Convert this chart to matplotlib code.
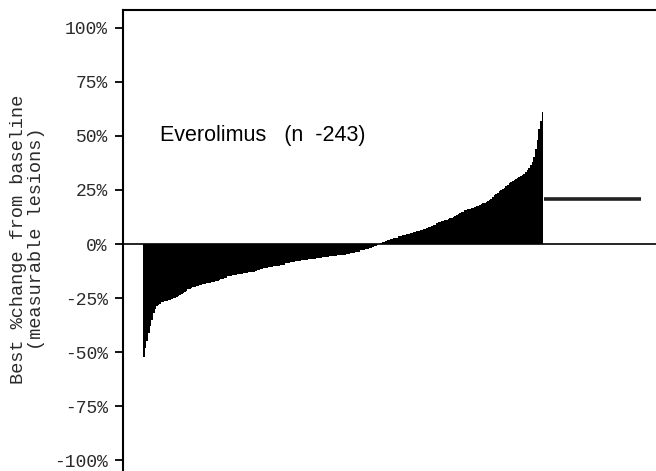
import numpy as np
import matplotlib
matplotlib.use("Agg")
import matplotlib.pyplot as plt

# best % change from baseline per patient, sorted (waterfall)
best_change = [
    -52, -48, -45, -41, -38, -35, -32, -30, -28.5, -28,
    -27.5, -27, -27, -26.5, -26.5, -26,
    -26, -25.5, -25, -25, -24.5,
    -24, -23.5, -23, -22.5, -22, -21.5,
    -21, -21, -20.5, -20, -20, -19.5, -19.5, -19,
    -19, -18.5, -18.5, -18, -18, -18, -17.5, -17.5, -17.5,
    -17, -17, -16.5, -16, -16, -15.5, -15.5,
    -15, -15, -15, -14.5, -14.5, -14.5, -14, -14, -14,
    -14, -13.5, -13.5, -13.5, -13, -13, -13, -13,
    -12.5, -12, -12, -11.5, -11.5,
    -11, -11, -11, -10.5, -10.5, -10.5, -10, -10, -10, -10,
    -9.5, -9.5, -9.5, -9, -9, -9, -8.5, -8.5,
    -8.5, -8, -8, -8, -8, -7.5, -7.5, -7.5, -7.5, -7, -7, -7, -7, -7, -6.5, -6.5, -6.5,
    -6.5, -6, -6, -6, -6, -5.5, -5.5, -5.5, -5.5, -5.5, -5, -5, -5, -5,
    -5, -4.5, -4.5, -4.5, -4, -4, -4, -3.5, -3.5, -3.5, -3, -3, -3, -2.5,
    -2.5, -2, -2, -1.5, -1, -1, -0.5,
    0,
    0.5, 1, 1, 1.5, 2, 2,
    2.5, 2.5, 3, 3, 3, 3.5, 3.5, 4,
    4, 4, 4.5, 4.5, 5, 5, 5.5, 5.5, 6, 6,
    6.5, 6.5, 7, 7, 7.5, 8, 8, 8.5, 9, 9, 9.5,
    10, 10, 10.5, 10.5, 11, 11, 11.5, 12, 12,
    12.5, 13, 13.5, 14, 14.5,
    15, 15, 15.5, 15.5, 16, 16, 16.5,
    16.6, 17, 17.5, 17.5, 18, 18.5, 19, 19, 19.5,
    20, 20.5, 21, 21.5, 22.5, 23, 23.5, 24.5,
    25, 25.5, 26, 27, 27.5, 28, 28.5, 29,
    29.5, 30, 30.5, 31, 31.5, 32, 32.5, 33.5,
    34, 35, 36.5, 38, 40, 44, 48, 53, 57, 61,
]
# level line to the right of the bars
level_value = 21
level_span = [243, 302]

yticks = [-100, -75, -50, -25, 0, 25, 50, 75, 100]
ytick_labels = ["-100%", "-75%", "-50%", "-25%", "0%", "25%", "50%", "75%", "100%"]

mono = "Liberation Mono"

fig = plt.figure(figsize=(6.56, 4.71), dpi=100)
ax = fig.add_axes([0.1875, -0.0234, 0.83, 1.0015])

idx = np.arange(len(best_change))
ax.bar(idx, best_change, width=1.0, color="black", linewidth=0)
ax.plot(level_span, [level_value, level_value], color="#222222", lw=2.6,
        solid_capstyle="butt")
ax.axhline(0, color="black", lw=1.2)

ax.set_xlim(-12.65, 318)
ax.set_ylim(-110, 108)
ax.set_xticks([])
ax.set_yticks(yticks)
ax.set_yticklabels(ytick_labels, family=mono, fontsize=13, color="#2a2a2a")
ax.tick_params(axis="y", direction="out", length=6, width=1.3, pad=5)

for s in ["right", "bottom"]:
    ax.spines[s].set_visible(False)
for s in ["left", "top"]:
    ax.spines[s].set_linewidth(1.5)

ax.text(9.8, 50, "Everolimus   (n  -243)", family="Liberation Sans",
        fontsize=15.5, va="center", ha="left")

fig.text(0.042, 0.4926, "Best %change from baseline\n(measurable lesions)",
         family=mono, fontsize=13.4, rotation=90, ha="center", va="center",
         multialignment="center", color="#2a2a2a", linespacing=1.05)

fig.savefig("out.png", dpi=100)
